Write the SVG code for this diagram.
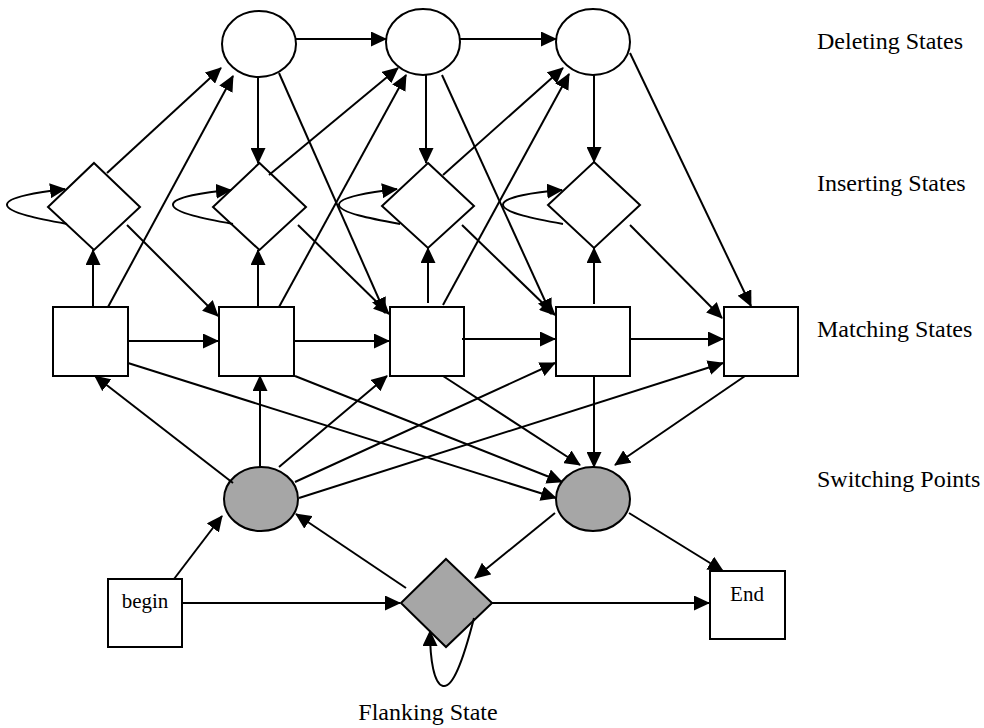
<svg xmlns="http://www.w3.org/2000/svg" width="984" height="728" viewBox="0 0 984 728">
  <style>
    .node { fill: #ffffff; stroke: #000000; stroke-width: 2; }
    .shaded { fill: #a6a6a6; stroke: #000000; stroke-width: 2; }
    .edge { fill: none; stroke: #000000; stroke-width: 2; marker-end: url(#arrow); }
    .label { font-family: "Liberation Serif", "Times New Roman", serif; font-size: 24px; fill: #000000; }
    .inner { font-family: "Liberation Serif", "Times New Roman", serif; font-size: 21px; fill: #000000; text-anchor: middle; }
  </style>
  <defs>
    <marker id="arrow" viewBox="0 0 16 15" refX="15" refY="7.5" markerWidth="16" markerHeight="15" markerUnits="userSpaceOnUse" orient="auto">
      <path d="M0,0 L16,7.5 L0,15 z" fill="#000000"/>
    </marker>
  </defs>
  <rect width="984" height="728" fill="#ffffff"/>

  <!-- deleting states -->
  <g id="delete-1"><ellipse class="node" cx="259" cy="44" rx="37" ry="33"/></g>
  <g id="delete-2"><ellipse class="node" cx="423" cy="42" rx="37" ry="33"/></g>
  <g id="delete-3"><ellipse class="node" cx="593" cy="42" rx="37" ry="33"/></g>

  <!-- inserting states -->
  <g id="insert-0"><polygon class="node" points="94,163 140,207 94,250 48,207"/></g>
  <g id="insert-1"><polygon class="node" points="259.5,163 306,207 259.5,250 213,207"/></g>
  <g id="insert-2"><polygon class="node" points="428,163 474,206 428,248 382,206"/></g>
  <g id="insert-3"><polygon class="node" points="594,162 640,205 594,248 548,205"/></g>

  <!-- matching states -->
  <g id="match-0"><rect class="node" x="53" y="307" width="75" height="69"/></g>
  <g id="match-1"><rect class="node" x="219" y="307" width="75" height="69"/></g>
  <g id="match-2"><rect class="node" x="390" y="307" width="74" height="69"/></g>
  <g id="match-3"><rect class="node" x="556" y="307" width="74" height="69"/></g>
  <g id="match-4"><rect class="node" x="724" y="307" width="74" height="69"/></g>

  <!-- switching points -->
  <g id="switch-1"><ellipse class="shaded" cx="261" cy="499" rx="37" ry="32"/></g>
  <g id="switch-2"><ellipse class="shaded" cx="593" cy="499" rx="37" ry="32"/></g>

  <!-- begin, flanking and end states -->
  <g id="begin">
    <rect class="node" x="108" y="579" width="74" height="68"/>
    <text class="inner" x="145" y="608">begin</text>
  </g>
  <g id="flanking"><polygon class="shaded" points="446,559 492,603 446,647 401,603"/></g>
  <g id="end">
    <rect class="node" x="710" y="571" width="75" height="68"/>
    <text class="inner" x="747" y="601">End</text>
  </g>

  <g id="connectors">
    <!-- delete chain -->
    <path class="edge" d="M296,39 L386,39"/>
    <path class="edge" d="M460,39 L556,39"/>
    <!-- delete to insert -->
    <path class="edge" d="M258,77 L258,163"/>
    <path class="edge" d="M426,75 L426,163"/>
    <path class="edge" d="M594,75 L594,162"/>
    <!-- delete to next match -->
    <path class="edge" d="M279,73 L385,313"/>
    <path class="edge" d="M442,75 L551,314"/>
    <path class="edge" d="M630,53 L751,306"/>
    <!-- insert / match to next delete -->
    <path class="edge" d="M107,173 L221,68"/>
    <path class="edge" d="M108,307 L233,76"/>
    <path class="edge" d="M269,175 L398,68"/>
    <path class="edge" d="M279,307 L406,75"/>
    <path class="edge" d="M443,175 L563,68"/>
    <path class="edge" d="M443,305 L569,74"/>
    <!-- insert to next match -->
    <path class="edge" d="M127,225 L218,316"/>
    <path class="edge" d="M298,225 L389,314"/>
    <path class="edge" d="M462,225 L555,315"/>
    <path class="edge" d="M630,225 L722,318"/>
    <!-- match to insert -->
    <path class="edge" d="M93,307 L93,250"/>
    <path class="edge" d="M258,307 L258,250"/>
    <path class="edge" d="M428,303 L428,248"/>
    <path class="edge" d="M594,304 L594,248"/>
    <!-- match chain -->
    <path class="edge" d="M128,341 L218,341"/>
    <path class="edge" d="M294,341 L389,341"/>
    <path class="edge" d="M462,339 L555,339"/>
    <path class="edge" d="M630,339 L723,339"/>
    <!-- switching point 1 to matches -->
    <path class="edge" d="M233,483 L95,376"/>
    <path class="edge" d="M260,467 L260,376"/>
    <path class="edge" d="M279,467 L387,376"/>
    <path class="edge" d="M295,482 L555,363"/>
    <path class="edge" d="M299,498 L723,363"/>
    <!-- matches to switching point 2 -->
    <path class="edge" d="M128,363 L556,498"/>
    <path class="edge" d="M295,376 L562,482"/>
    <path class="edge" d="M443,376 L580,465"/>
    <path class="edge" d="M594,376 L594,467"/>
    <path class="edge" d="M745,376 L615,465"/>
    <!-- bottom row -->
    <path class="edge" d="M174,579 L222,516"/>
    <path class="edge" d="M406,588 L296,514"/>
    <path class="edge" d="M555,513 L475,578"/>
    <path class="edge" d="M629,513 L723,571"/>
    <path class="edge" d="M182,603 L400,603"/>
    <path class="edge" d="M492,603 L709,603"/>
    <!-- self loops -->
    <path class="edge" d="M67,224 C40,219 8,213 7,205 C6,197 40,192 65,189"/>
    <path class="edge" d="M233,224 C206,219 174,213 173,205 C172,197 206,192 231,190"/>
    <path class="edge" d="M400,224 C373,219 340,213 339,205 C338,197 372,192 397,189"/>
    <path class="edge" d="M563,224 C536,219 504,213 503,205 C502,197 536,192 562,190"/>
    <path class="edge" d="M474,618 C462,665 452,688 443,686 C434,684 430,660 430,631"/>
  </g>

  <!-- row labels -->
  <text class="label" x="817" y="49">Deleting States</text>
  <text class="label" x="817" y="191">Inserting States</text>
  <text class="label" x="817" y="337">Matching States</text>
  <text class="label" x="817" y="487">Switching Points</text>
  <text class="label" x="428" y="720" text-anchor="middle">Flanking State</text>
</svg>
